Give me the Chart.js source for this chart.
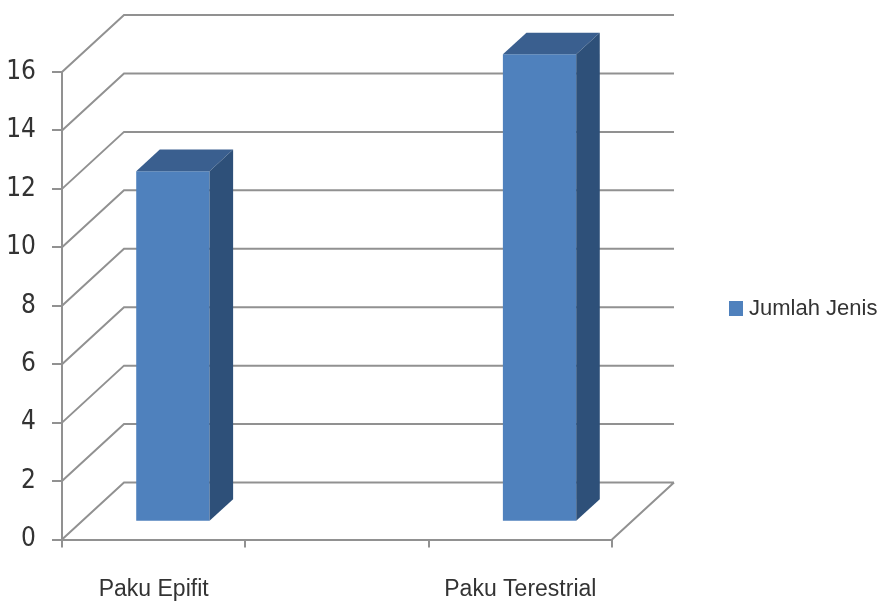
<!DOCTYPE html>
<html>
<head>
<meta charset="utf-8">
<script src="https://cdn.jsdelivr.net/npm/chart.js@4.4.1/dist/chart.umd.min.js"></script>
<style>
  html, body { margin: 0; padding: 0; background: #fff; }
  #wrap { width: 882px; height: 601px; }
</style>
</head>
<body>
<div id="wrap"><canvas id="myChart" width="882" height="601"></canvas></div>
<script>
const categories = ['Paku Epifit', '', 'Paku Terestrial'];
const jumlahJenis = [12, null, 16];
const seriesName = 'Jumlah Jenis';
const yTicks = [0, 2, 4, 6, 8, 10, 12, 14, 16];

const gridColor = '#919191';
const frontColor = '#4f81bd';
const topColor = '#3a5f8f';
const sideColor = '#2e5079';

// depth of the 3d box (back wall offset from front plane)
const depthX = 62, depthY = -57;
// bars sit in the middle of the depth
const barFront = 0.31, barDepth = 0.38;

const box3d = {
  id: 'box3d',
  beforeDatasetsDraw(chart) {
    const c = chart.ctx, a = chart.chartArea, y = chart.scales.y;
    c.save();
    c.strokeStyle = gridColor;
    c.lineWidth = 2;
    c.beginPath();
    yTicks.forEach(v => {
      const py = y.getPixelForValue(v);
      // side wall diagonal
      c.moveTo(a.left, py);
      c.lineTo(a.left + depthX, py + depthY);
      // back wall line
      c.lineTo(a.right + depthX, py + depthY);
    });
    // floor right edge
    const py0 = y.getPixelForValue(0);
    c.moveTo(a.right, py0);
    c.lineTo(a.right + depthX, py0 + depthY);
    c.stroke();
    c.restore();

    // shift the front faces back into the box
    c.save();
    c.translate(depthX * barFront, depthY * barFront);
  },
  afterDatasetsDraw(chart) {
    const c = chart.ctx;
    c.restore();
    const dx = depthX * barDepth, dy = depthY * barDepth;
    c.save();
    c.translate(depthX * barFront, depthY * barFront);
    chart.getDatasetMeta(0).data.forEach((bar, i) => {
      if (jumlahJenis[i] == null) return;
      const p = bar.getProps(['x', 'y', 'base', 'width'], true);
      const l = p.x - p.width / 2, r = p.x + p.width / 2;
      c.fillStyle = topColor;
      c.beginPath();
      c.moveTo(l, p.y);
      c.lineTo(l + dx, p.y + dy);
      c.lineTo(r + dx, p.y + dy);
      c.lineTo(r, p.y);
      c.closePath();
      c.fill();
      c.fillStyle = sideColor;
      c.beginPath();
      c.moveTo(r, p.y);
      c.lineTo(r + dx, p.y + dy);
      c.lineTo(r + dx, p.base + dy);
      c.lineTo(r, p.base);
      c.closePath();
      c.fill();
    });
    c.restore();
  },
  afterDraw(chart) {
    // legend
    const c = chart.ctx;
    c.save();
    c.fillStyle = frontColor;
    c.fillRect(729, 301, 14, 15);
    c.fillStyle = '#333';
    c.font = "22px 'Liberation Sans', sans-serif";
    c.textBaseline = 'middle';
    c.fillText(seriesName, 749, 309);
    c.restore();
  }
};

const ctx = document.getElementById('myChart');

new Chart(ctx, {
  type: 'bar',
  data: {
    labels: categories,
    datasets: [{
      label: seriesName,
      data: jumlahJenis,
      backgroundColor: frontColor,
      borderWidth: 0,
      barPercentage: 0.4,
      categoryPercentage: 1.0,
      clip: false
    }]
  },
  options: {
    responsive: false,
    animation: false,
    layout: {
      padding: { top: 72, right: 270, bottom: 0, left: 0 }
    },
    scales: {
      x: {
        afterFit: s => { s.height = 61.5; },
        grid: {
          drawOnChartArea: false,
          drawTicks: true,
          tickLength: 8,
          color: gridColor,
          lineWidth: 2
        },
        border: { color: gridColor, width: 2 },
        ticks: {
          padding: 28,
          color: '#333',
          font: { size: 23, family: "'Liberation Sans', sans-serif" }
        }
      },
      y: {
        min: 0,
        max: 16,
        afterFit: s => { s.width = 62; },
        grid: {
          drawOnChartArea: false,
          drawTicks: true,
          tickLength: 10,
          color: gridColor,
          lineWidth: 2
        },
        border: { color: gridColor, width: 2 },
        ticks: {
          stepSize: 2,
          padding: 16,
          color: '#333',
          font: { size: 26, family: "'Liberation Sans Narrow', 'DejaVu Sans Condensed', sans-serif" }
        }
      }
    },
    plugins: {
      legend: { display: false },
      tooltip: { enabled: false }
    }
  },
  plugins: [box3d]
});
</script>
</body>
</html>
